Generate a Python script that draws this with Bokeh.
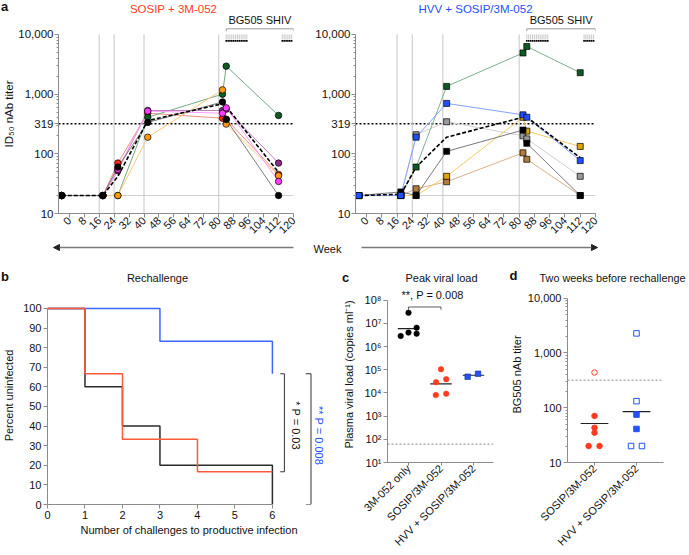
import math
from bokeh.plotting import figure
from bokeh.layouts import column, row
from bokeh.models import Range1d, FixedTicker, Label, Arrow, NormalHead, Span, NumeralTickFormatter
from bokeh.embed import file_html
from bokeh.resources import INLINE

FONT = "Liberation Sans"
RED = "#ff3b1f"
BLUE = "#2450ff"
AX = "#8c8c8c"

# ---------------- data ----------------
weeks = [-4, 18, 26, 42, 82, 84, 112]
week_ticks = [0, 8, 16, 24, 32, 40, 48, 56, 64, 72, 80, 88, 96, 104, 112, 120]
immunization_weeks = [16, 24, 40, 80]
challenge_weeks_1 = [84, 85, 86, 87, 88, 89, 90, 91, 92, 93, 94, 95]
challenge_weeks_2 = [114, 115, 116, 117, 118, 119]
shiv_span = [84, 120]
titer_ticks = [10, 100, 319, 1000, 10000]
titer_threshold = 319
titer_floor = 20

# panel a, left: SOSIP + 3M-052 (circles)
sosip_red = [20, 20, 70, 480, 395, 380, 45]
sosip_green = [20, 20, 20, 410, 1000, 2950, 440]
sosip_orange = [20, 20, 20, 190, 1180, 315, 43]
sosip_purple = [20, 20, 52, 532, 532, 560, 70]
sosip_magenta = [20, 20, 55, 520, 480, 590, 34.5]
sosip_black = [20, 20, 60, 336, 740, 376, 20]
sosip_mean = [20, 20, 42, 360, 690, 620, 49]

# panel a, right: HVV + SOSIP/3M-052 (squares)
hvv_gray = [20, 20, 209, 345, 200, 178, 42]
hvv_brown = [20, 20, 26, 34, 104, 81, 20]
hvv_gold = [20, 20, 20, 42, 410, 240, 133]
hvv_black = [20, 23, 20, 110, 250, 150, 20]
hvv_green = [20, 20, 60, 1350, 4900, 6300, 2290]
hvv_blue = [20, 20, 190, 700, 450, 410, 77]
hvv_mean = [20, 21, 60, 190, 410, 410, 86]

# panel b: Kaplan-Meier, percent uninfected vs challenges
km_x_3m = [0, 1, 2, 3, 6]
km_y_3m = [100, 60, 40, 20, 0]
km_x_sosip = [0, 1, 2, 4, 6]
km_y_sosip = [100, 66.7, 33.3, 16.7, 16.7]
km_x_hvv = [0, 3, 6]
km_y_hvv = [100, 83.3, 66.7]
b_ticks_x = [0, 1, 2, 3, 4, 5, 6]
b_ticks_y = [0, 10, 20, 30, 40, 50, 60, 70, 80, 90, 100]

# panel c: peak viral load
c_groups = ["3M-052 only", "SOSIP/3M-052", "HVV + SOSIP/3M-052"]
vl_3m = [2.85e6, 2.86e7, 4.0e6, 6.5e6, 3.6e6]
vl_3m_jit = [-0.24, 0.0, 0.0, 0.25, 0.25]
vl_sosip = [2.9e4, 1.05e5, 3.9e4, 8.1e3, 9.3e3]
vl_sosip_jit = [-0.15, 0.0, 0.16, -0.16, 0.16]
vl_hvv = [5.0e4, 6.7e4]
vl_hvv_jit = [-0.18, 0.14]
vl_lod = 62
c_ticks = [10, 100, 1000, 10000, 100000, 1000000, 10000000, 100000000]
c_tick_labels = ["10¹", "10²", "10³", "10⁴", "10⁵", "10⁶", "10⁷", "10⁸"]

# panel d: BG505 nAb titer two weeks before rechallenge
d_groups = ["SOSIP/3M-052", "HVV + SOSIP/3M-052"]
d_sosip = [440, 71, 43, 35, 20, 20]
d_sosip_jit = [0, 0, 0, 0, -0.14, 0.12]
d_sosip_filled = [False, True, True, True, True, True]
d_hvv = [2280, 132, 75, 41, 20, 20]
d_hvv_jit = [0, 0, 0, 0, -0.13, 0.13]
d_hvv_filled = [False, False, True, True, False, False]
d_ticks = [10, 100, 1000, 10000]

TOTAL_W = 689


def minor_log(decades):
    return [m * 10 ** d for d in decades for m in range(2, 10)]


def style(p, tick_size="11px"):
    p.outline_line_color = None
    p.grid.visible = False
    for ax in p.axis:
        ax.axis_line_color = AX
        ax.major_tick_line_color = AX
        ax.minor_tick_line_color = AX
        ax.major_tick_in = 0
        ax.major_tick_out = 4
        ax.minor_tick_in = 0
        ax.minor_tick_out = 2
        ax.major_label_text_font = FONT
        ax.major_label_text_font_size = tick_size
        ax.major_label_text_color = "#111111"
        ax.axis_label_text_font = FONT
        ax.axis_label_text_font_size = "11px"
        ax.axis_label_text_font_style = "normal"
        ax.axis_label_text_color = "#111111"
        ax.major_label_standoff = 2
        ax.axis_label_standoff = 2


def fig(width, height, xr, yr, left, right, bottom, log=False, **kw):
    p = figure(width=width, height=height, x_range=Range1d(*xr), y_range=Range1d(*yr),
               y_axis_type="log" if log else "linear", output_backend="svg",
               toolbar_location=None, min_border_left=left, min_border_right=right,
               min_border_top=0, min_border_bottom=bottom, frame_align=False, **kw)
    return p


def strip(height):
    s = figure(width=TOTAL_W, height=height, x_range=Range1d(0, TOTAL_W),
               y_range=Range1d(height, 0), x_axis_location=None, y_axis_location=None,
               output_backend="svg", toolbar_location=None, min_border_left=0,
               min_border_right=0, min_border_top=0, min_border_bottom=0, frame_align=False)
    s.outline_line_color = None
    s.grid.visible = False
    return s


def put(p, x, y, text, size="11px", color="#111111", bold=False, align="center",
        baseline="middle", angle=0.0):
    p.add_layout(Label(x=x, y=y, text=text, text_font=FONT, text_font_size=size,
                       text_color=color, text_font_style="bold" if bold else "normal",
                       text_align=align, text_baseline=baseline, angle=angle))


# ---------------- header strip for panel a ----------------
head_a = strip(14)
put(head_a, 0.5, 6, "a", size="13px", bold=True, align="left")
put(head_a, 173, 8, "SOSIP + 3M-052", size="11.5px", color=RED)
put(head_a, 475, 8, "HVV + SOSIP/3M-052", size="11.5px", color=BLUE)

# ---------------- panel a ----------------
A_H, A_FB = 226, 27
A_X = (-5.76, 120)
A_LOG = (1.0, 4.335)


def make_a(width, left, series, mean, marker, msize, ylabel):
    fw = 240
    p = fig(width, A_H, A_X, (10 ** A_LOG[0], 10 ** A_LOG[1]), left, width - left - fw,
            A_FB, log=True)
    style(p, "11.5px")
    p.xaxis.ticker = FixedTicker(ticks=week_ticks)
    p.xaxis.major_label_orientation = math.pi / 4
    p.xaxis.major_label_text_font_size = "11px"
    p.xaxis.major_label_standoff = 1
    p.yaxis.ticker = FixedTicker(ticks=titer_ticks, minor_ticks=minor_log([1, 2, 3]))
    p.yaxis.formatter = NumeralTickFormatter(format="0,0")
    p.yaxis.bounds = (10, 10000)
    p.yaxis.major_label_standoff = 1
    if ylabel:
        p.yaxis.axis_label = ylabel
        p.yaxis.axis_label_standoff = 0
        p.yaxis.axis_label_text_font_size = "11.5px"

    n = len(immunization_weeks)
    p.segment(x0=immunization_weeks, y0=[10] * n, x1=immunization_weeks, y1=[10000] * n,
              line_color="#c6c6c6", line_width=1)
    p.add_layout(Span(location=titer_floor, dimension="width", line_color="#cfcfcf",
                      line_width=1, level="underlay"))
    p.add_layout(Span(location=titer_threshold, dimension="width", line_color="black",
                      line_width=1.4, line_dash="2 2", level="underlay"))

    for vals, col, lcol in series:
        p.line(weeks, vals, line_color=lcol, line_width=1)
    p.line(weeks, mean, line_color="black", line_width=1.6, line_dash="4 2")
    for vals, col, lcol in series:
        p.scatter(weeks, vals, marker=marker, size=msize, fill_color=col,
                  line_color="black", line_width=0.7)

    # BG505 SHIV challenge bracket
    yb, ye = 10 ** 4.095, 10 ** 4.055
    p.line([shiv_span[0], shiv_span[0], shiv_span[1], shiv_span[1]], [ye, yb, yb, ye],
           line_color="#9a9a9a", line_width=1)
    put(p, (shiv_span[0] + shiv_span[1]) / 2, 10 ** 4.235, "BG505 SHIV", size="11px")
    ch = challenge_weeks_1 + challenge_weeks_2
    p.segment(x0=ch, y0=[10 ** 3.916] * len(ch), x1=ch, y1=[10 ** 4.0] * len(ch),
              line_color="#b8b8b8", line_width=0.8)
    p.scatter(ch, [10 ** 3.893] * len(ch), marker="square", size=1.6,
              fill_color="black", line_color=None)
    return p


a1 = make_a(300, 53,
            [(sosip_red, "#ff2a10", "#f3907f"),
             (sosip_green, "#0d5a22", "#76a882"),
             (sosip_orange, "#ff9a10", "#ffc878"),
             (sosip_purple, "#8e2a8e", "#bf7fbf"),
             (sosip_magenta, "#ff3cff", "#ff9cff"),
             (sosip_black, "#000000", "#7a7a7a")],
            sosip_mean, "circle", 6.5, "ID₅₀ nAb titer")

a2 = make_a(389, 55,
            [(hvv_gray, "#9a9a9a", "#d0d0d0"),
             (hvv_brown, "#b27a3e", "#dcb088"),
             (hvv_gold, "#e0a010", "#f3cb6a"),
             (hvv_black, "#000000", "#7a7a7a"),
             (hvv_green, "#0d5a22", "#80b08c"),
             (hvv_blue, "#1f50ff", "#86a2ff")],
            hvv_mean, "square", 6, None)

# ---------------- week arrows row ----------------
wk = strip(22)
wk.add_layout(Arrow(end=NormalHead(size=6, line_color="#222222", fill_color="#222222"),
                    x_start=293, y_start=7, x_end=53, y_end=7,
                    line_color="#7a7a7a", line_width=1.5))
wk.add_layout(Arrow(end=NormalHead(size=6, line_color="#222222", fill_color="#222222"),
                    x_start=361, y_start=7, x_end=597, y_end=7,
                    line_color="#7a7a7a", line_width=1.5))
put(wk, 313, 8, "Week", align="left")

# ---------------- header strip for panels b, c, d ----------------
head_b = strip(24)
put(head_b, 0.5, 14, "b", size="13px", bold=True, align="left")
put(head_b, 157, 15, "Rechallenge")
put(head_b, 345, 15, "c", size="13px", bold=True)
put(head_b, 441, 15, "Peak viral load")
put(head_b, 513, 13, "d", size="13px", bold=True)
put(head_b, 612, 15, "Two weeks before rechallenge", size="10.8px")

BOT_H = 269

# ---------------- panel b ----------------
pb = fig(333, BOT_H, (0, 7.55), (0, 111.2), 43, 3, 51)
style(pb)
pb.xaxis.ticker = FixedTicker(ticks=b_ticks_x)
pb.yaxis.ticker = FixedTicker(ticks=b_ticks_y)
pb.xaxis.bounds = (0, 6)
pb.yaxis.bounds = (0, 100)
pb.xaxis.axis_label = "Number of challenges to productive infection"
pb.yaxis.axis_label = "Percent uninfected"
pb.yaxis.axis_label_standoff = 5
pb.step(km_x_3m, km_y_3m, mode="after", line_color="#2b2b2b", line_width=1.5)
pb.step(km_x_hvv, km_y_hvv, mode="after", line_color="#3d66ff", line_width=1.5)
pb.step(km_x_sosip, km_y_sosip, mode="after", line_color="#ff5a3a", line_width=1.5)
top_b, low_b = km_y_hvv[-1], km_y_sosip[-1]
pb.line([6.21, 6.32, 6.32, 6.21], [top_b, top_b, low_b, low_b], line_color="#333333",
        line_width=1)
pb.line([6.89, 7.03, 7.03, 6.89], [top_b, top_b, km_y_3m[-1], km_y_3m[-1]],
        line_color="#333333", line_width=1)
put(pb, 6.63, 40.3, "* P = 0.03", angle=-math.pi / 2)
put(pb, 7.24, 35.2, "** P = 0.008", color=BLUE, angle=-math.pi / 2)

# ---------------- panel c ----------------
pc = fig(169, BOT_H, (0.354, 3.615), (10, 10 ** 8.59), 54, 9, 89, log=True)
style(pc)
pc.xaxis.ticker = FixedTicker(ticks=[1, 2, 3])
pc.xaxis.major_label_overrides = {i + 1: g for i, g in enumerate(c_groups)}
pc.xaxis.major_label_orientation = math.pi / 4
pc.xaxis.major_label_standoff = 1
pc.xaxis.major_tick_out = 3
pc.yaxis.ticker = FixedTicker(ticks=c_ticks)
pc.yaxis.major_label_overrides = dict(zip(c_ticks, c_tick_labels))
pc.yaxis.bounds = (c_ticks[0], c_ticks[-1])
pc.yaxis.axis_label = "Plasma viral load (copies ml⁻¹)"
pc.yaxis.axis_label_standoff = 7
pc.add_layout(Span(location=vl_lod, dimension="width", line_color="#8a8a8a",
                   line_width=1, line_dash="2 2", level="underlay"))


def gmean(v):
    return 10 ** (sum(math.log10(a) for a in v) / len(v))


for cat, vals, jit, col, mk in [(1, vl_3m, vl_3m_jit, "black", "circle"),
                                (2, vl_sosip, vl_sosip_jit, "#ff3b1f", "circle"),
                                (3, vl_hvv, vl_hvv_jit, "#2450ff", "square")]:
    gm = gmean(vals)
    pc.segment(x0=[cat - 0.33], y0=[gm], x1=[cat + 0.33], y1=[gm], line_color="#222222",
               line_width=1.2)
    pc.scatter([cat + j for j in jit], vals, marker=mk, size=5.5, fill_color=col,
               line_color=col if mk == "circle" else "#1a2a80", line_width=0.6)
yb, ye = 10 ** 7.706, 10 ** 7.59
pc.line([1, 1, 2, 2], [ye, yb, yb, ye], line_color="#333333", line_width=0.8)
put(pc, 1.74, 10 ** 8.212, "**, P = 0.008")

# ---------------- panel d ----------------
pd_ = fig(187, BOT_H, (0.357, 2.643), (10, 10 ** 4.214), 65, 26, 89, log=True)
style(pd_)
pd_.xaxis.ticker = FixedTicker(ticks=[1, 2])
pd_.xaxis.major_label_overrides = {i + 1: g for i, g in enumerate(d_groups)}
pd_.xaxis.major_label_orientation = math.pi / 4
pd_.xaxis.major_label_standoff = 1
pd_.xaxis.major_tick_out = 3
pd_.yaxis.ticker = FixedTicker(ticks=d_ticks, minor_ticks=minor_log([1, 2, 3]))
pd_.yaxis.formatter = NumeralTickFormatter(format="0,0")
pd_.yaxis.bounds = (10, 10000)
pd_.yaxis.axis_label = "BG505 nAb titer"
pd_.add_layout(Span(location=titer_threshold, dimension="width", line_color="#8a8a8a",
                    line_width=1, line_dash="2 2", level="underlay"))
for cat, vals, jit, filled, col, mk in [(1, d_sosip, d_sosip_jit, d_sosip_filled, "#ff3b1f", "circle"),
                                        (2, d_hvv, d_hvv_jit, d_hvv_filled, "#2450ff", "square")]:
    gm = gmean(vals)
    pd_.segment(x0=[cat - 0.33], y0=[gm], x1=[cat + 0.33], y1=[gm], line_color="#222222",
                line_width=1.2)
    xs_f = [cat + j for j, f in zip(jit, filled) if f]
    ys_f = [v for v, f in zip(vals, filled) if f]
    xs_o = [cat + j for j, f in zip(jit, filled) if not f]
    ys_o = [v for v, f in zip(vals, filled) if not f]
    pd_.scatter(xs_f, ys_f, marker=mk, size=5.5, fill_color=col, line_color=col)
    pd_.scatter(xs_o, ys_o, marker=mk, size=5.5, fill_color="white", line_color=col,
                line_width=1)

layout = column(head_a, row(a1, a2), wk, head_b, row(pb, pc, pd_))
open("out.html", "w").write(file_html(layout, INLINE))
